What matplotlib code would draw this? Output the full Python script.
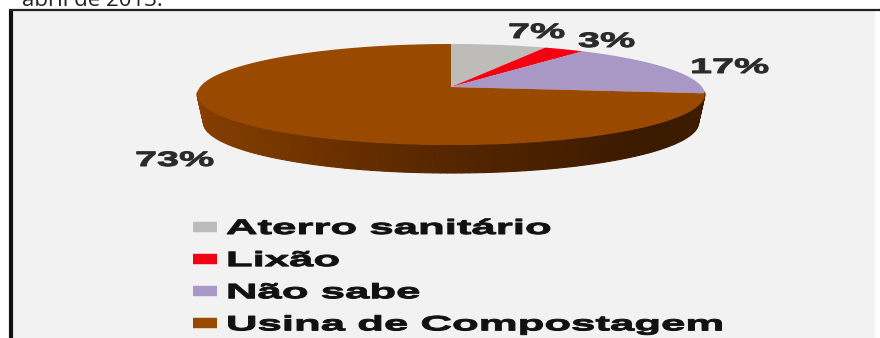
import numpy as np
import matplotlib
matplotlib.use("Agg")
import matplotlib.pyplot as plt
from matplotlib.colors import LinearSegmentedColormap
from matplotlib.lines import Line2D
from matplotlib.patches import Polygon, Rectangle
from matplotlib.patheffects import AbstractPathEffect
from matplotlib.transforms import Affine2D

categorias = ["Aterro sanitário", "Lixão", "Não sabe", "Usina de Compostagem"]
valores = [7, 3, 17, 73]
cores = ["#bdbcb8", "#f50012", "#a997c6", "#994a00"]
rotulo_pos = [(508, 38), (578, 47), (690, 73), (135, 166)]


class Esticado(AbstractPathEffect):
    # widens the glyphs horizontally and thickens them a bit, still a normal Text object
    def __init__(self, sx, grossura=0.7):
        super().__init__()
        self.sx = sx
        self.grossura = grossura

    def draw_path(self, renderer, gc, tpath, affine, rgbFace=None):
        gc0 = renderer.new_gc()
        gc0.copy_properties(gc)
        gc0.set_linewidth(self.grossura)
        gc0.set_foreground(rgbFace)
        renderer.draw_path(gc0, tpath, Affine2D().scale(self.sx, 1) + affine, rgbFace)
        gc0.restore()


def projeta(th, cx=451, cy=87, a=251, b=49.4, k=0.1486, dy=0, esc=1.0):
    # tilted disc: th is clockwise from the top, far side gets smaller
    u, v = np.sin(th), np.cos(th)
    d = 1 + k * v
    return cx + esc * a * u / d, cy + dy - b * v / d


fig = plt.figure(figsize=(8.8, 3.38), dpi=100, facecolor="white")
ax = fig.add_axes([0, 0, 1, 1])
ax.set_xlim(0, 880)
ax.set_ylim(338, 0)
ax.axis("off")

# panel
ax.add_patch(Rectangle((11, 11), 864, 330, fc="#f2f2f2", ec="none", zorder=0))
ax.plot([10.5, 10.5], [10, 338], color="#111111", lw=3, zorder=1, solid_capstyle="butt")
ax.plot([9, 880], [10, 10], color="#222222", lw=1.6, zorder=1, solid_capstyle="butt")

fig.text(22 / 880, 1 - 6 / 338, "abril de 2013.", family="Open Sans", fontsize=16,
         color="#222222", va="baseline", ha="left")

# side wall of the disc, only the lower half shows
cmap = LinearSegmentedColormap.from_list("parede", ["#8a4000", "#7a3800", "#552600", "#3a1a00", "#3f1d00"])
fim = np.cumsum(valores) / 100 * 2 * np.pi
ang = np.linspace(np.pi * 0.53, np.pi * 1.47, 120)
for i in range(len(ang) - 1):
    t = np.array([ang[i], ang[i + 1]])
    x1, y1 = projeta(t)
    x2, y2 = projeta(t, dy=28, esc=0.975)
    cor = cmap(1 - i / (len(ang) - 2))
    ax.add_patch(Polygon(np.c_[np.r_[x1, x2[::-1]], np.r_[y1, y2[::-1]]], fc=cor, ec=cor, lw=0.8, zorder=2))

# top face
ini = 0.0
for v, c, f in zip(valores, cores, fim):
    t = np.linspace(ini, f, 100)
    x, y = projeta(t)
    ax.add_patch(Polygon(np.c_[np.r_[451, x], np.r_[87, y]], fc=c, ec="none", zorder=3))
    ini = f

for v, (x, y) in zip(valores, rotulo_pos):
    ax.text(x, y, f"{v}%", family="Liberation Sans", weight="bold", fontsize=15, color="#2a2a2a",
            va="baseline", ha="left", path_effects=[Esticado(1.9)], zorder=5)

handles = [Line2D([], [], color=c, lw=7.5, solid_capstyle="butt") for c in cores]
leg = ax.legend(handles, categorias, loc="upper left", bbox_to_anchor=(193, 219),
                bbox_transform=ax.transData, frameon=False, borderpad=0, borderaxespad=0,
                handlelength=1.15, handletextpad=0.43, labelspacing=0.63,
                prop={"family": "Liberation Sans", "weight": "bold", "size": 15})
for t in leg.get_texts():
    t.set_color("#111111")
    t.set_path_effects([Esticado(2.1)])

fig.savefig("out.png", dpi=100)
